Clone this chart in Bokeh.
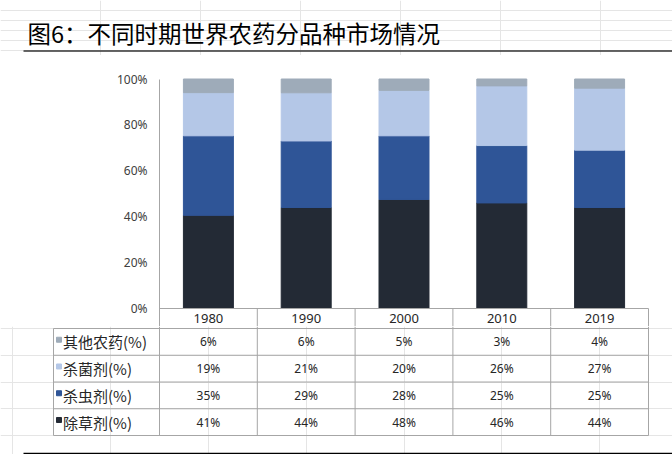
from bokeh.plotting import figure
from bokeh.layouts import column
from bokeh.models import Range1d, FixedTicker, PrintfTickFormatter, ColumnDataSource
from bokeh.core.properties import value
from bokeh.embed import file_html
from bokeh.resources import INLINE

# ---------------- data ----------------
title_text = "图6：不同时期世界农药分品种市场情况"
years = ["1980", "1990", "2000", "2010", "2019"]
row_labels = ["其他农药(%)", "杀菌剂(%)", "杀虫剂(%)", "除草剂(%)"]
other = [6, 6, 5, 3, 4]
fungicide = [19, 21, 20, 26, 27]
insecticide = [35, 29, 28, 25, 25]
herbicide = [41, 44, 48, 46, 44]
y_ticks = [0, 20, 40, 60, 80, 100]

# ---------------- style ----------------
C_OTHER = "#9EABB9"
C_FUNG = "#B4C7E7"
C_INSECT = "#2F5597"
C_HERB = "#232A35"
GRID_C = "#A6A6A6"
TXT_C = "#262626"
CJK = value("Noto Sans CJK SC")
LAT = value("Noto Sans")

# ---------------- layout constants (page pixels) ----------------
W = 672
PAGE_H = 454
LEFT = 159          # left edge of first year column
RIGHT_PAD = 22
COL_W = 97.8
LABEL_LEFT = 53     # left edge of table label column
RULE_LEFT = 23
TITLE_H = 55
Y100 = 78.5
Y0 = 308
MAIN_BOTTOM = 326
HDR_BOTTOM = 328
ROW_H = 26.75
YEAR_Y = 318

def col_unit(px):
    return (px - LEFT) / COL_W - 0.5

# ---------------- title figure ----------------
pt = figure(width=W, height=TITLE_H, x_range=Range1d(0, W), y_range=Range1d(TITLE_H, 0),
            toolbar_location=None, output_backend="svg", min_border=0, frame_align=False,
            x_axis_location=None, y_axis_location=None)
pt.outline_line_color = None
pt.text(x=[27], y=[32], text=[title_text], text_font=CJK, text_font_size="23.5px",
        text_baseline="middle", text_align="left", text_color="#000000")
pt.segment(x0=[RULE_LEFT], y0=[50.5], x1=[W], y1=[50.5], line_color="#333333", line_width=1.5)

# ---------------- main chart figure ----------------
ppu = (Y0 - Y100) / 100.0
main_h = MAIN_BOTTOM - TITLE_H
y_end = 100 + (Y100 - TITLE_H) / ppu
y_start = -(MAIN_BOTTOM - Y0) / ppu
frame_w = W - LEFT - RIGHT_PAD
x_start = -0.5
x_end = -0.5 + frame_w / COL_W

pm = figure(width=W, height=main_h, x_range=Range1d(x_start, x_end), y_range=Range1d(y_start, y_end),
            toolbar_location=None, output_backend="svg", frame_align=False,
            min_border_left=LEFT, min_border_right=RIGHT_PAD, min_border_top=0, min_border_bottom=0,
            x_axis_location=None)
pm.outline_line_color = None
pm.grid.visible = False

totals = [o + f + i + h for o, f, i, h in zip(other, fungicide, insecticide, herbicide)]
src = ColumnDataSource(dict(
    x=list(range(len(years))),
    herb=[v / t * 100 for v, t in zip(herbicide, totals)],
    insect=[v / t * 100 for v, t in zip(insecticide, totals)],
    fung=[v / t * 100 for v, t in zip(fungicide, totals)],
    other=[v / t * 100 for v, t in zip(other, totals)],
))
pm.vbar_stack(["herb", "insect", "fung", "other"], x="x", width=0.511,
              color=[C_HERB, C_INSECT, C_FUNG, C_OTHER], source=src)

yax = pm.yaxis[0]
yax.ticker = FixedTicker(ticks=y_ticks)
yax.formatter = PrintfTickFormatter(format="%d%%")
yax.bounds = (y_start, 100)
yax.axis_line_color = GRID_C
yax.axis_line_width = 1
yax.major_tick_line_color = None
yax.minor_tick_line_color = None
yax.major_tick_out = 0
yax.major_tick_in = 0
yax.major_label_standoff = 12
yax.major_label_text_font = "Noto Sans"
yax.major_label_text_font_size = "12px"
yax.major_label_text_color = "#404040"

# header row (years)
n = len(years)
pm.segment(x0=[-0.5], y0=[0], x1=[n - 0.5], y1=[0], line_color=GRID_C, line_width=1)
bx = [i + 0.5 for i in range(n)]
pm.segment(x0=bx, y0=[0] * n, x1=bx, y1=[y_start] * n, line_color=GRID_C, line_width=1)
year_y = -(YEAR_Y - Y0) / ppu
pm.text(x=list(range(n)), y=[year_y] * n, text=years, text_font=LAT, text_font_size="13px",
        text_align="center", text_baseline="middle", text_color=TXT_C)

# ---------------- table figure ----------------
tab_h = PAGE_H - MAIN_BOTTOM
row0 = HDR_BOTTOM - MAIN_BOTTOM
ty_top = -row0 / ROW_H
ty_bottom = (tab_h - row0) / ROW_H
ptab = figure(width=W, height=tab_h, x_range=Range1d(col_unit(0), col_unit(W)),
              y_range=Range1d(ty_bottom, ty_top),
              toolbar_location=None, output_backend="svg", min_border=0, frame_align=False,
              x_axis_location=None, y_axis_location=None)
ptab.outline_line_color = None

nrows = len(row_labels)
xl = col_unit(LABEL_LEFT)
# horizontal lines
ptab.segment(x0=[xl] * (nrows + 1), y0=list(range(nrows + 1)), x1=[n - 0.5] * (nrows + 1),
             y1=list(range(nrows + 1)), line_color=GRID_C, line_width=1)
# vertical lines
vx = [i - 0.5 for i in range(n + 1)]
ptab.segment(x0=vx, y0=[ty_top] * len(vx), x1=vx, y1=[nrows] * len(vx), line_color=GRID_C, line_width=1)
ptab.segment(x0=[xl], y0=[0], x1=[xl], y1=[nrows], line_color=GRID_C, line_width=1)

# legend squares + labels
row_colors = [C_OTHER, C_FUNG, C_INSECT, C_HERB]
ry = [r + 0.5 for r in range(nrows)]
ptab.scatter(x=[col_unit(58.5)] * nrows, y=[r - 0.08 for r in ry], marker="square", size=5,
             color=row_colors)
ptab.text(x=[col_unit(62.5)] * nrows, y=ry, text=row_labels, text_font=CJK, text_font_size="15px",
          text_align="left", text_baseline="middle", text_color=TXT_C)

# cell values
rows_data = [other, fungicide, insecticide, herbicide]
cx, cy, ct = [], [], []
for r, vals in enumerate(rows_data):
    for c, v in enumerate(vals):
        cx.append(c)
        cy.append(r + 0.5)
        ct.append(f"{v}%")
ptab.text(x=cx, y=cy, text=ct, text_font=LAT, text_font_size="12px",
          text_align="center", text_baseline="middle", text_color=TXT_C)

# bottom rule
by = (453 - HDR_BOTTOM) / ROW_H
ptab.segment(x0=[col_unit(RULE_LEFT)], y0=[by], x1=[col_unit(W)], y1=[by], line_color="#000000", line_width=1.5)

layout = column(pt, pm, ptab, spacing=0)
open("out.html", "w").write(file_html(layout, INLINE))
